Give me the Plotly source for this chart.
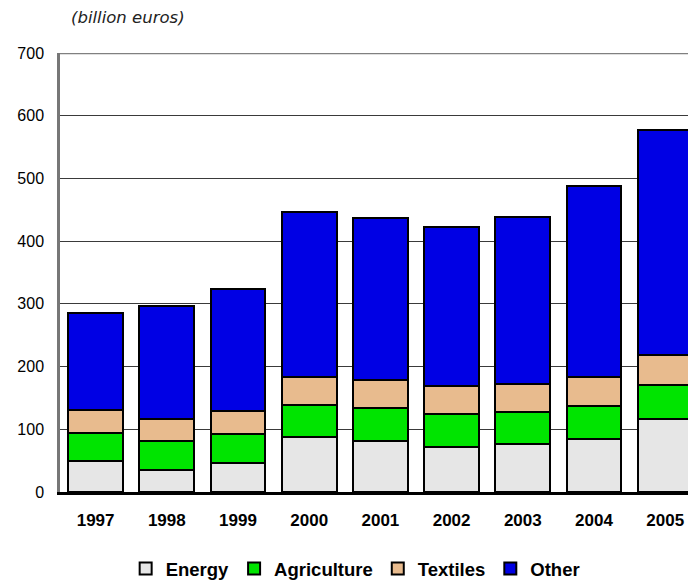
import plotly.graph_objects as go

years = ["1997", "1998", "1999", "2000", "2001", "2002", "2003", "2004", "2005"]
energy = [49, 35, 47, 88, 81, 72, 76, 84, 116]
agriculture = [45, 46, 45, 51, 53, 53, 52, 53, 54]
textiles = [36, 36, 37, 45, 45, 44, 45, 47, 49]
other = [156, 179, 194, 262, 258, 253, 265, 304, 359]

series = [
    ("Energy", energy, "#e6e6e6"),
    ("Agriculture", agriculture, "#00e400"),
    ("Textiles", textiles, "#e8bb8e"),
    ("Other", other, "#0000e4"),
]

fig = go.Figure()
for name, vals, col in series:
    fig.add_trace(go.Bar(
        x=years, y=vals, name=name,
        marker=dict(color=col, line=dict(color="#000000", width=2)),
    ))

fig.update_layout(
    width=688, height=583,
    barmode="stack", bargap=0.23,
    plot_bgcolor="white", paper_bgcolor="white",
    margin=dict(l=60, r=0, t=53, b=91),
    font=dict(family="Liberation Sans, Arial, sans-serif", color="#000000"),
    showlegend=True,
    legend=dict(orientation="h", x=0.47, xanchor="center",
                yref="container", y=(583 - 569) / 583, yanchor="middle",
                font=dict(size=18.5, family="Liberation Sans, Arial, sans-serif", weight="bold"),
                traceorder="normal", itemwidth=30),
    xaxis=dict(range=[-0.5, 8.32], showgrid=False, showline=True, linecolor="#000000",
               linewidth=2.5, ticks="", ticklabelstandoff=11,
               tickfont=dict(size=17, weight="bold")),
    yaxis=dict(range=[0, 700], dtick=100, showgrid=True, gridcolor="#3a3a3a", gridwidth=1,
               showline=True, linecolor="#777777", linewidth=2.5, ticks="",
               ticklabelstandoff=10, tickfont=dict(size=16), zeroline=False),
    annotations=[dict(text="<i>(billion euros)</i>", xref="paper", yref="paper",
                      x=(69 - 60) / 628, y=1 + (53 - 17) / 439, xanchor="left", yanchor="middle",
                      showarrow=False, font=dict(size=16.5, family="DejaVu Sans", color="#222222"))],
    shapes=[dict(type="line", xref="paper", yref="y", x0=0, x1=1, y0=700, y1=700,
                 line=dict(color="#808080", width=2.5))],
)

fig.write_html("out.html", config={"displayModeBar": False},
               post_script="document.body.style.margin='0';document.body.style.overflow='hidden';")
